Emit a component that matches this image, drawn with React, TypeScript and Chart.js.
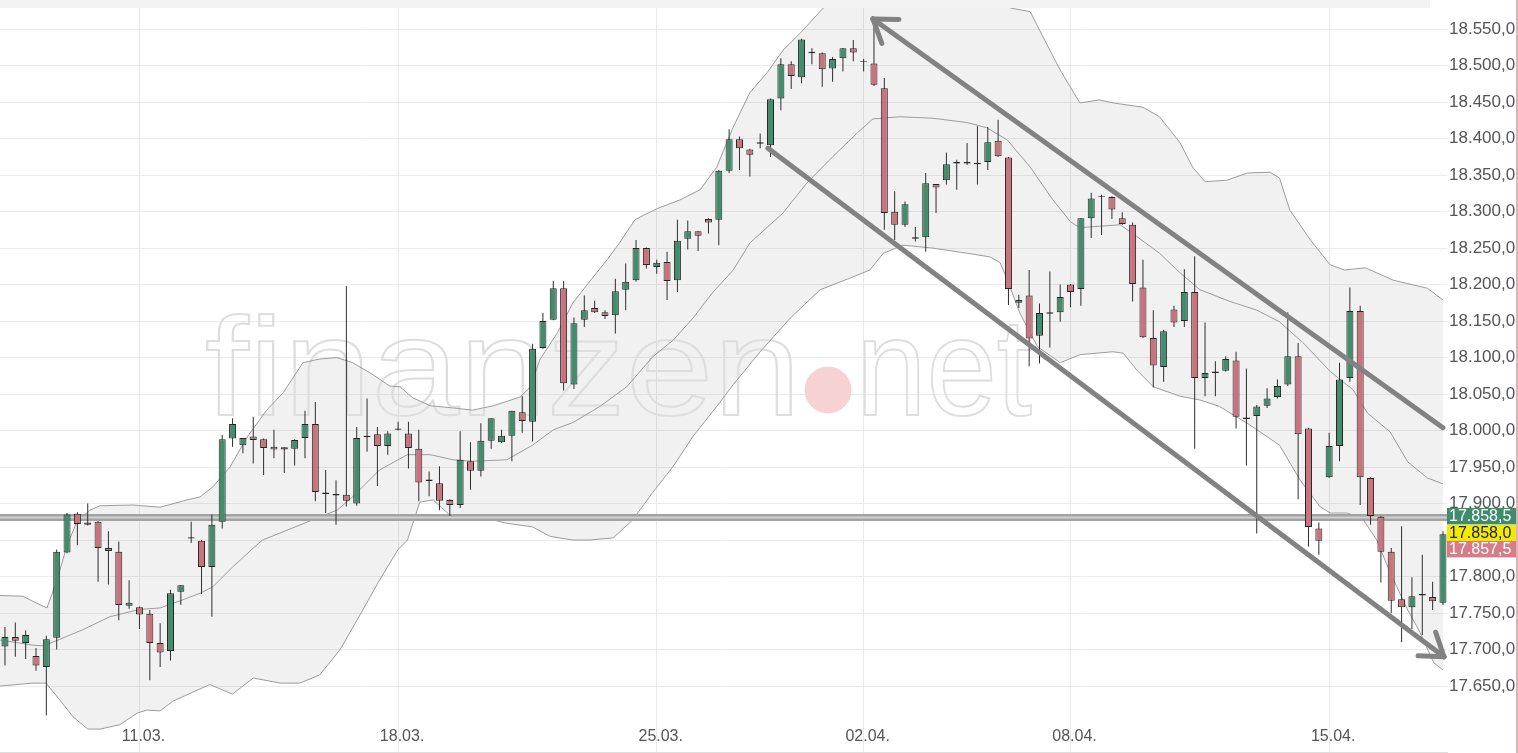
import React, { useEffect, useRef } from "react";
import { Chart, registerables } from "chart.js";

Chart.register(...registerables);

// ---- candle data (index = candle position) ----
const opens = [
  17704, 17717, 17709, 17691, 17676, 17716, 17833, 17886, 17874, 17875,
  17839, 17834, 17760, 17758, 17749, 17709, 17698, 17779, 17852, 17849,
  17813, 17875, 17989, 17980, 17992, 17988, 17978, 17977, 17975, 17990,
  18009, 17915, 17913, 17912, 17900, 17991, 17995, 17979, 18001, 17996,
  17975, 17933, 17928, 17905, 17898, 17958, 17945, 17986, 17984, 17993,
  18025, 18012, 18113, 18152, 18195, 18063, 18152, 18168, 18162, 18158,
  18193, 18206, 18250, 18224, 18231, 18206, 18263, 18273, 18290, 18289,
  18356, 18399, 18385, 18393, 18391, 18455, 18502, 18484, 18519, 18517,
  18496, 18510, 18524, 18506, 18503, 18469, 18300, 18282, 18265, 18265,
  18338, 18343, 18366, 18366, 18365, 18368, 18397, 18374, 18175, 18185,
  18130, 18160, 18162, 18200, 18194, 18291, 18320, 18320, 18291, 18282,
  18196, 18127, 18087, 18166, 18150, 18190, 18072, 18081, 18082, 18096,
  18018, 18020, 18034, 18046, 18063, 18102, 18003, 17866, 17936, 17979,
  18072, 18164, 17935, 17882, 17834, 17769, 17758, 17776, 17772, 17764,
];
const highs = [
  17731, 17737, 17726, 17702, 17719, 17837, 17887, 17888, 17900, 17876,
  17862, 17848, 17795, 17759, 17754, 17736, 17782, 17788, 17875, 17850,
  17885, 17994, 18017, 17990, 18019, 17989, 18001, 17977, 17988, 18027,
  18039, 17946, 17932, 18198, 18005, 18044, 18005, 17999, 18012, 18012,
  18001, 17944, 17951, 17906, 17999, 17984, 18010, 18017, 18001, 18027,
  18047, 18119, 18161, 18205, 18205, 18155, 18185, 18178, 18165, 18208,
  18229, 18261, 18251, 18234, 18245, 18289, 18288, 18273, 18291, 18357,
  18413, 18403, 18386, 18407, 18455, 18510, 18506, 18537, 18524, 18518,
  18512, 18524, 18535, 18509, 18562, 18483, 18328, 18314, 18279, 18353,
  18338, 18381, 18371, 18394, 18417, 18416, 18426, 18375, 18186, 18220,
  18174, 18218, 18200, 18201, 18291, 18326, 18323, 18321, 18299, 18285,
  18234, 18165, 18138, 18171, 18221, 18239, 18148, 18095, 18102, 18108,
  18085, 18035, 18058, 18070, 18162, 18120, 18004, 17874, 17997, 18093,
  18196, 18171, 17936, 17883, 17839, 17869, 17799, 17830, 17793, 17862,
];
const lows = [
  17678, 17690, 17687, 17671, 17610, 17700, 17832, 17843, 17870, 17793,
  17789, 17740, 17756, 17728, 17658, 17676, 17685, 17761, 17846, 17776,
  17745, 17866, 17978, 17969, 17955, 17939, 17962, 17942, 17952, 17962,
  17903, 17887, 17871, 17896, 17897, 17971, 17924, 17967, 18000, 17948,
  17903, 17910, 17891, 17883, 17894, 17919, 17937, 17975, 17983, 17958,
  17997, 17985, 18112, 18151, 18055, 18057, 18142, 18161, 18153, 18133,
  18165, 18204, 18222, 18215, 18179, 18190, 18248, 18246, 18270, 18254,
  18353, 18357, 18348, 18387, 18375, 18439, 18468, 18476, 18502, 18471,
  18478, 18492, 18506, 18492, 18472, 18275, 18261, 18279, 18259, 18245,
  18298, 18337, 18330, 18364, 18337, 18357, 18375, 18172, 18168, 18088,
  18092, 18114, 18149, 18169, 18171, 18264, 18268, 18290, 18282, 18177,
  18127, 18059, 18067, 18142, 18142, 17975, 18047, 18047, 18081, 18003,
  17952, 17859, 18031, 18044, 18061, 17906, 17841, 17830, 17935, 17958,
  18067, 17898, 17871, 17792, 17750, 17710, 17728, 17720, 17754, 17761,
];
const closes = [
  17717, 17712, 17720, 17678, 17714, 17834, 17885, 17872, 17871, 17839,
  17835, 17761, 17764, 17748, 17709, 17696, 17777, 17788, 17854, 17813,
  17871, 17988, 18009, 17990, 17987, 17976, 17974, 17974, 17987, 18009,
  17916, 17913, 17911, 17904, 17990, 17993, 17979, 17996, 18003, 17976,
  17929, 17931, 17904, 17898, 17960, 17945, 17986, 18017, 17993, 18027,
  18013, 18112, 18150, 18195, 18065, 18147, 18165, 18162, 18157, 18191,
  18204, 18250, 18227, 18230, 18205, 18260, 18273, 18267, 18285, 18356,
  18399, 18387, 18378, 18395, 18454, 18502, 18486, 18536, 18517, 18495,
  18509, 18524, 18518, 18505, 18474, 18298, 18282, 18310, 18263, 18339,
  18333, 18365, 18368, 18368, 18367, 18395, 18376, 18194, 18179, 18126,
  18161, 18162, 18183, 18190, 18291, 18318, 18321, 18303, 18283, 18201,
  18128, 18089, 18136, 18148, 18190, 18072, 18079, 18079, 18098, 18019,
  18016, 18033, 18044, 18061, 18102, 17995, 17868, 17849, 17979, 18070,
  18164, 17936, 17883, 17834, 17767, 17758, 17773, 17774, 17766, 17858,
];

// ---- x axis date ticks ----
const dateTickIndex = [13, 38, 63, 83, 103, 128];
const dateTickLabels = ["11.03.", "18.03.", "25.03.", "02.04.", "08.04.", "15.04."];

// ---- y axis ticks ----
const yTickValues = [
  17650, 17700, 17750, 17800, 17850, 17900, 17950, 18000, 18050, 18100,
  18150, 18200, 18250, 18300, 18350, 18400, 18450, 18500, 18550,
];

// ---- Bollinger bands ----
const upperBandX = [-0.48, 1.74, 2.7, 4.06, 5.03, 6.0, 6.96, 8.2, 9.2, 12.4, 15.0, 17.6, 18.85, 20.1, 21.75, 23.4, 25.3, 26.9, 28.8, 30.4, 32.1, 33.6, 35.3, 37.2, 38.2, 39.4, 41.1, 43.3, 45.2, 47.2, 49.8, 50.8, 51.7, 53.4, 54.9, 56.5, 58.2, 59.4, 60.9, 63.0, 65.25, 67.2, 68.8, 70.4, 72.0, 73.7, 75.2, 76.9, 79.1, 80.7, 83.6, 88.5, 93.3, 96.2, 97.2, 99.1, 100.5, 102.0, 103.9, 105.8, 107.1, 110.0, 111.6, 113.6, 114.8, 116.0, 118.1, 120.1, 122.3, 123.2, 124.2, 126.2, 128.1, 129.5, 131.5, 134.2, 137.5, 139.0];
const upperBandY = [17774, 17773, 17766, 17757, 17795, 17843, 17875, 17891, 17897, 17898, 17895, 17905, 17909, 17923, 17950, 17991, 18028, 18052, 18093, 18098, 18100, 18093, 18079, 18061, 18060, 18045, 18034, 18031, 18028, 18034, 18046, 18060, 18097, 18134, 18175, 18204, 18234, 18257, 18289, 18304, 18316, 18330, 18361, 18416, 18463, 18491, 18521, 18545, 18579, 18593, 18604, 18606, 18601, 18590, 18579, 18574, 18535, 18494, 18449, 18453, 18449, 18443, 18430, 18394, 18361, 18341, 18343, 18353, 18354, 18346, 18302, 18261, 18227, 18220, 18223, 18206, 18195, 18179];
const middleBandX = [-0.48, 2.7, 3.7, 5.3, 7.5, 10.15, 13.05, 15.0, 16.2, 18.85, 20.1, 22.0, 24.0, 24.9, 29.8, 32.1, 33.6, 36.2, 38.9, 41.1, 43.3, 45.2, 48.5, 51.0, 53.0, 54.9, 57.5, 60.1, 62.6, 64.6, 66.5, 68.4, 70.4, 72.0, 75.2, 77.5, 80.0, 82.4, 83.9, 86.5, 89.7, 93.0, 94.9, 96.9, 99.1, 101.3, 103.0, 103.9, 105.8, 107.8, 109.4, 111.6, 113.6, 115.5, 118.4, 121.0, 123.2, 125.5, 128.1, 130.3, 131.7, 133.9, 135.6, 137.5, 139.0];
const middleBandY = [17713, 17706, 17705, 17714, 17727, 17745, 17755, 17757, 17763, 17777, 17786, 17813, 17839, 17850, 17878, 17891, 17909, 17946, 17967, 17967, 17960, 17958, 17960, 17980, 18001, 18011, 18033, 18060, 18101, 18124, 18154, 18189, 18220, 18257, 18298, 18339, 18375, 18408, 18427, 18430, 18428, 18422, 18415, 18398, 18361, 18316, 18286, 18278, 18280, 18282, 18266, 18243, 18216, 18193, 18177, 18165, 18149, 18120, 18081, 18056, 18024, 17998, 17957, 17935, 17927];
const lowerBandX = [-0.48, 2.7, 3.96, 5.3, 6.57, 8.0, 9.2, 11.1, 12.8, 13.7, 15.0, 16.2, 17.9, 19.8, 22.0, 24.0, 26.6, 28.5, 30.4, 32.4, 34.3, 36.2, 38.0, 38.9, 40.1, 41.4, 43.0, 45.9, 48.5, 51.0, 52.7, 54.9, 56.5, 58.8, 60.7, 62.6, 64.6, 66.5, 68.8, 70.4, 73.0, 75.9, 78.8, 81.7, 83.6, 84.9, 86.8, 89.7, 93.0, 95.2, 96.2, 96.9, 98.1, 99.8, 102.0, 103.9, 107.1, 108.1, 109.4, 111.0, 113.6, 115.5, 117.4, 120.3, 123.2, 125.2, 127.1, 128.1, 129.7, 131.2, 132.6, 133.9, 135.6, 136.8, 138.1, 139.0];
const lowerBandY = [17650, 17654, 17654, 17631, 17608, 17591, 17591, 17597, 17613, 17617, 17616, 17629, 17640, 17652, 17639, 17661, 17654, 17654, 17665, 17700, 17747, 17795, 17837, 17850, 17902, 17905, 17884, 17882, 17873, 17868, 17855, 17850, 17850, 17853, 17878, 17915, 17951, 17992, 18033, 18063, 18108, 18154, 18193, 18209, 18220, 18243, 18254, 18250, 18243, 18238, 18230, 18206, 18161, 18115, 18093, 18104, 18108, 18106, 18083, 18060, 18047, 18042, 18033, 18008, 17980, 17932, 17896, 17887, 17887, 17880, 17850, 17805, 17754, 17723, 17682, 17672];

// ---- drawn objects ----
const supportLineX = [-0.5, 139.4];
const supportLineY = [17881, 17881];
const arrowUpperX = [83.9, 139.0]; // head at first point
const arrowUpperY = [18564, 18004];
const arrowLowerX = [73.75, 139.1]; // head at last point
const arrowLowerY = [18387, 17690];
const lastPrice = 17858;
const priceTagValues = [17858.5, 17858.0, 17857.5];

const GREEN = "#438c6e";
const RED = "#c8737d";
const FONT = '"Liberation Sans", Arial, sans-serif';

function fmtDE(v: number, dec: number): string {
  const fixed = v.toFixed(dec);
  const [ip, dp] = fixed.split(".");
  const withSep = ip.replace(/\B(?=(\d{3})+(?!\d))/g, ".");
  return dec > 0 ? withSep + "," + dp : withSep;
}

const pts = (xs: number[], ys: number[]) => xs.map((x, i) => ({ x, y: ys[i] }));

const decorPlugin = {
  id: "decor",
  beforeDraw(chart: any) {
    const ctx = chart.ctx;
    ctx.save();
    ctx.fillStyle = "#ffffff";
    ctx.fillRect(0, 0, chart.width, chart.height);
    ctx.fillStyle = "#f3f3f3";
    ctx.fillRect(0, 0, 1430, 8);
    ctx.restore();
  },
  beforeDatasetsDraw(chart: any) {
    const ctx = chart.ctx;
    const a = chart.chartArea;
    ctx.save();
    ctx.beginPath();
    ctx.rect(a.left, a.top, a.right - a.left, a.bottom - a.top);
    ctx.clip();
    ctx.font = "140px " + FONT;
    ctx.strokeStyle = "#dedede";
    ctx.lineWidth = 2;
    ctx.textBaseline = "alphabetic";
    const w1 = ctx.measureText("finanzen").width;
    ctx.save();
    ctx.translate(205, 415);
    ctx.scale(596 / w1, 1);
    ctx.strokeText("finanzen", 0, 0);
    ctx.restore();
    const w2 = ctx.measureText("net").width;
    ctx.save();
    ctx.translate(856, 415);
    ctx.scale(176 / w2, 1);
    ctx.strokeText("net", 0, 0);
    ctx.restore();
    ctx.fillStyle = "#f6d2d2";
    ctx.beginPath();
    ctx.arc(828, 390, 23.5, 0, Math.PI * 2);
    ctx.fill();
    ctx.restore();
  },
  afterDatasetsDraw(chart: any) {
    const ctx = chart.ctx;
    const heads = [
      { ds: 0, tip: 0, other: 1 },
      { ds: 1, tip: 1, other: 0 },
    ];
    ctx.save();
    ctx.strokeStyle = "#828282";
    ctx.lineWidth = 5;
    ctx.lineCap = "round";
    for (const h of heads) {
      const meta = chart.getDatasetMeta(h.ds);
      const p = meta.data[h.tip];
      const q = meta.data[h.other];
      const ang = Math.atan2(q.y - p.y, q.x - p.x);
      const len = 26;
      for (const s of [-0.6, 0.6]) {
        ctx.beginPath();
        ctx.moveTo(p.x, p.y);
        ctx.lineTo(p.x + len * Math.cos(ang + s), p.y + len * Math.sin(ang + s));
        ctx.stroke();
      }
    }
    ctx.restore();
  },
  afterDraw(chart: any) {
    const ctx = chart.ctx;
    const yc = chart.scales.y.getPixelForValue(lastPrice);
    const x0 = chart.chartArea.right;
    const tags = [
      { v: priceTagValues[0], bg: "#3f8c6d", fg: "#ffffff", top: yc - 26.3 },
      { v: priceTagValues[1], bg: "#f3ea00", fg: "#222222", top: yc - 9.3 },
      { v: priceTagValues[2], bg: "#d57e88", fg: "#ffffff", top: yc + 6.7 },
    ];
    ctx.save();
    ctx.font = "16px " + FONT;
    ctx.textBaseline = "middle";
    ctx.textAlign = "left";
    for (const t of tags) {
      ctx.fillStyle = t.bg;
      ctx.fillRect(x0, t.top, chart.width - x0, 16.5);
      ctx.fillStyle = t.fg;
      ctx.fillText(fmtDE(t.v, 1), x0 + 2, t.top + 8.8);
    }
    ctx.fillStyle = "#d9b4b9";
    ctx.fillRect(chart.width - 2, 0, 2, chart.height);
    ctx.restore();
  },
};

export default function App() {
  const ref = useRef<HTMLCanvasElement>(null);

  useEffect(() => {
    document.body.style.margin = "0";
    const bodies = closes.map((c, i) => ({ x: i, y: [opens[i], c] }));
    const wicks = lows.map((l, i) => ({ x: i, y: [l, highs[i]] }));
    const bodyColors = closes.map((c, i) => (c >= opens[i] ? GREEN : RED));

    const lineBase = {
      type: "line" as const,
      pointRadius: 0,
      pointHoverRadius: 0,
      tension: 0,
    };

    const chart = new Chart(ref.current as HTMLCanvasElement, {
      type: "bar",
      data: {
        datasets: [
          {
            ...lineBase,
            data: pts(arrowUpperX, arrowUpperY),
            borderColor: "#828282",
            borderWidth: 5,
            borderCapStyle: "round",
            order: -1,
          } as any,
          {
            ...lineBase,
            data: pts(arrowLowerX, arrowLowerY),
            borderColor: "#828282",
            borderWidth: 5,
            borderCapStyle: "round",
            order: -1,
          } as any,
          {
            type: "bar",
            data: bodies,
            backgroundColor: bodyColors,
            borderColor: "#262626",
            borderWidth: 1,
            borderSkipped: false,
            barThickness: 7,
            grouped: false,
            inflateAmount: 0,
            order: 0,
          } as any,
          {
            type: "bar",
            data: wicks,
            backgroundColor: "#2e2e2e",
            borderWidth: 0,
            barThickness: 1,
            grouped: false,
            inflateAmount: 0,
            order: 1,
          } as any,
          {
            ...lineBase,
            data: pts(supportLineX, supportLineY),
            borderColor: "#d2d2d2",
            borderWidth: 2,
            order: 2,
          } as any,
          {
            ...lineBase,
            data: pts(supportLineX, supportLineY),
            borderColor: "#a3a3a3",
            borderWidth: 7,
            order: 3,
          } as any,
          {
            ...lineBase,
            data: pts(upperBandX, upperBandY),
            borderColor: "#9c9c9c",
            borderWidth: 1,
            fill: { target: 8 },
            backgroundColor: "rgba(0,0,0,0.055)",
            order: 4,
          } as any,
          {
            ...lineBase,
            data: pts(middleBandX, middleBandY),
            borderColor: "#9c9c9c",
            borderWidth: 1,
            fill: false,
            order: 4,
          } as any,
          {
            ...lineBase,
            data: pts(lowerBandX, lowerBandY),
            borderColor: "#9c9c9c",
            borderWidth: 1,
            fill: false,
            order: 4,
          } as any,
        ],
      },
      options: {
        responsive: false,
        devicePixelRatio: 1,
        animation: false,
        events: [],
        layout: { padding: { top: 8, left: 0, right: 0, bottom: 0 } },
        plugins: {
          legend: { display: false },
          tooltip: { enabled: false },
          filler: { drawTime: "beforeDatasetsDraw", propagate: false },
        } as any,
        scales: {
          x: {
            type: "linear",
            min: -0.48,
            max: 139.39,
            offset: false,
            afterBuildTicks: (s: any) => {
              s.ticks = dateTickIndex.map((v) => ({ value: v }));
            },
            afterFit: (s: any) => {
              s.height = 1;
              s.paddingLeft = 0;
              s.paddingRight = 0;
              s.paddingTop = 0;
              s.paddingBottom = 0;
            },
            grid: { color: "#e8e8e8", drawTicks: false, offset: false },
            border: { display: true, color: "#dedede" },
            ticks: {
              autoSkip: false,
              maxRotation: 0,
              mirror: true,
              padding: 6,
              labelOffset: 4,
              color: "#555555",
              font: { family: FONT, size: 16 },
              callback: (_v: any, i: number) => dateTickLabels[i],
            },
          } as any,
          y: {
            type: "linear",
            position: "right",
            min: 17559.6,
            max: 18579,
            beginAtZero: false,
            afterBuildTicks: (s: any) => {
              s.ticks = yTickValues.map((v) => ({ value: v }));
            },
            afterFit: (s: any) => {
              s.width = 71;
              s.paddingTop = 0;
              s.paddingBottom = 0;
              s.paddingLeft = 0;
              s.paddingRight = 0;
            },
            grid: { color: "#ececec", drawTicks: false },
            border: { display: false },
            ticks: {
              padding: 2,
              color: "#555555",
              font: { family: FONT, size: 17 },
              callback: (v: any) => fmtDE(Number(v), 1),
            },
          } as any,
        },
      },
      plugins: [decorPlugin as any],
    });
    return () => chart.destroy();
  }, []);

  return (
    <div style={{ width: 1518, height: 753, position: "relative", overflow: "hidden" }}>
      <canvas ref={ref} width={1518} height={753} style={{ display: "block", width: 1518, height: 753 }} />
    </div>
  );
}
